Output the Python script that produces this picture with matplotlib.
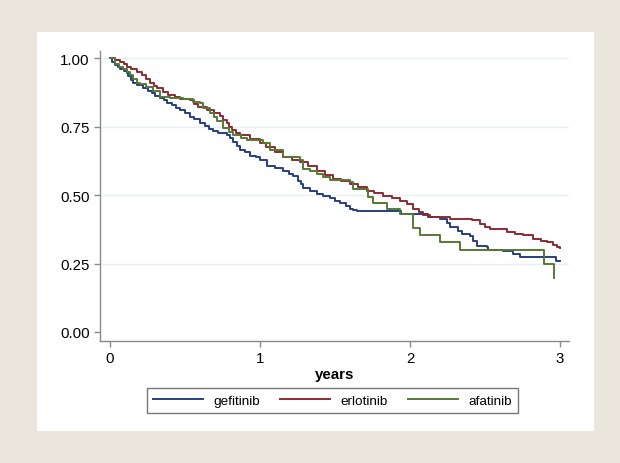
import matplotlib
matplotlib.use("Agg")
import matplotlib.pyplot as plt
from matplotlib.patches import Rectangle

plt.rcParams['font.family'] = ['Liberation Sans', 'DejaVu Sans']

series_names = ["gefitinib", "erlotinib", "afatinib"]

gef_t = [0, 0.011, 0.03, 0.05, 0.067, 0.09, 0.11, 0.122, 0.14, 0.155, 0.18, 0.22, 0.25, 0.28, 0.30,
         0.33, 0.36, 0.378, 0.41, 0.44, 0.467, 0.50, 0.533, 0.56, 0.60, 0.63, 0.66, 0.689, 0.72, 0.778,
         0.80, 0.822, 0.845, 0.867, 0.90, 0.933, 0.97, 1.0, 1.044, 1.1, 1.156, 1.19, 1.222, 1.25, 1.27,
         1.289, 1.33, 1.378, 1.42, 1.467, 1.50, 1.533, 1.57, 1.6, 1.62, 1.644, 1.94, 2.122, 2.2, 2.244,
         2.267, 2.322, 2.344, 2.4, 2.422, 2.444, 2.511, 2.52, 2.62, 2.689, 2.733, 2.975, 3.0]
gef_s = [1.0, 0.985, 0.975, 0.97, 0.962, 0.955, 0.945, 0.935, 0.922, 0.91, 0.903, 0.89, 0.882, 0.872, 0.864,
         0.855, 0.847, 0.838, 0.83, 0.82, 0.81, 0.80, 0.787, 0.778, 0.763, 0.752, 0.742, 0.733, 0.728, 0.72,
         0.708, 0.696, 0.68, 0.665, 0.656, 0.645, 0.638, 0.63, 0.608, 0.598, 0.587, 0.578, 0.57, 0.553, 0.54,
         0.525, 0.515, 0.505, 0.497, 0.488, 0.48, 0.47, 0.46, 0.45, 0.447, 0.443, 0.431, 0.42, 0.413, 0.40,
         0.382, 0.37, 0.358, 0.35, 0.334, 0.316, 0.31, 0.30, 0.296, 0.285, 0.273, 0.258, 0.258]

erl_t = [0, 0.03, 0.067, 0.09, 0.111, 0.14, 0.178, 0.211, 0.24, 0.267, 0.29, 0.311, 0.35, 0.389, 0.43,
         0.467, 0.533, 0.56, 0.589, 0.644, 0.69, 0.733, 0.755, 0.778, 0.795, 0.811, 0.84, 0.867, 0.933, 1.0,
         1.04, 1.1, 1.156, 1.21, 1.267, 1.32, 1.378, 1.43, 1.489, 1.54, 1.6, 1.65, 1.711, 1.76, 1.822,
         1.88, 1.933, 1.98, 2.022, 2.06, 2.089, 2.13, 2.267, 2.41, 2.467, 2.50, 2.533, 2.644, 2.70, 2.756,
         2.822, 2.87, 2.911, 2.95, 2.978, 3.0]
erl_s = [1.0, 0.995, 0.988, 0.978, 0.97, 0.96, 0.95, 0.94, 0.925, 0.91, 0.90, 0.89, 0.878, 0.866, 0.858,
         0.853, 0.848, 0.835, 0.822, 0.81, 0.80, 0.79, 0.775, 0.763, 0.75, 0.74, 0.728, 0.72, 0.706, 0.69,
         0.675, 0.658, 0.64, 0.63, 0.62, 0.605, 0.59, 0.575, 0.56, 0.55, 0.541, 0.53, 0.517, 0.508, 0.498,
         0.49, 0.48, 0.468, 0.45, 0.438, 0.426, 0.42, 0.414, 0.408, 0.395, 0.385, 0.377, 0.365, 0.358, 0.353,
         0.34, 0.334, 0.328, 0.318, 0.31, 0.307]

afa_t = [0, 0.033, 0.06, 0.089, 0.11, 0.133, 0.155, 0.178, 0.2, 0.24, 0.289, 0.333, 0.4, 0.489, 0.556,
         0.60, 0.622, 0.667, 0.69, 0.711, 0.756, 0.79, 0.822, 0.87, 0.911, 1.022, 1.067, 1.156, 1.267, 1.289,
         1.33, 1.378, 1.42, 1.467, 1.6, 1.622, 1.722, 1.756, 1.844, 1.933, 2.022, 2.067, 2.2, 2.333, 2.89, 2.96]
afa_s = [1.0, 0.98, 0.97, 0.96, 0.95, 0.94, 0.925, 0.91, 0.905, 0.895, 0.88, 0.86, 0.855, 0.85, 0.84,
         0.838, 0.82, 0.80, 0.785, 0.77, 0.745, 0.73, 0.72, 0.71, 0.70, 0.69, 0.665, 0.64, 0.627, 0.597,
         0.588, 0.578, 0.567, 0.555, 0.549, 0.524, 0.494, 0.47, 0.45, 0.433, 0.38, 0.356, 0.328, 0.30, 0.248, 0.197]

x_ticks = [0, 1, 2, 3]
y_ticks = [0.00, 0.25, 0.50, 0.75, 1.00]
y_ticklabels = ["0.00", "0.25", "0.50", "0.75", "1.00"]
x_label = "years"

colors = ["#283F7F", "#8C2B34", "#557A33"]

W, H = 620, 464
fig = plt.figure(figsize=(W / 100, H / 100), dpi=100)
fig.patch.set_facecolor("#EAE6DB")
fig.patches.append(Rectangle((37 / W, 1 - 432 / H), (594 - 37) / W, (432 - 33) / H,
                             transform=fig.transFigure, facecolor="white", edgecolor="none", zorder=-5))

ax = fig.add_axes([100 / W, 1 - 342 / H, 469 / W, 290 / H])
ax.set_zorder(2)
ax.set_facecolor("white")
ax.set_xlim(-0.067, 3.06)
ax.set_ylim(-0.033, 1.027)

for yv in y_ticks[1:]:
    ax.axhline(yv, color="#E6EFF1", lw=1.0, zorder=1)

for t, s, c, n in zip([gef_t, erl_t, afa_t], [gef_s, erl_s, afa_s], colors, series_names):
    ax.step(t, s, where="post", color=c, lw=1.4, label=n, zorder=3)

for side in ["top", "right"]:
    ax.spines[side].set_visible(False)
for side in ["left", "bottom"]:
    ax.spines[side].set_color("#8A8A8A")
    ax.spines[side].set_linewidth(1.0)

ax.set_xticks(x_ticks)
ax.set_xticklabels([str(v) for v in x_ticks])
ax.set_yticks(y_ticks)
ax.set_yticklabels(y_ticklabels)
ax.tick_params(axis="both", colors="#8A8A8A", labelcolor="black", labelsize=10.8, length=4, width=1.0)
ax.set_xlabel(x_label, fontsize=10.8, fontweight="bold", labelpad=1)

leg = fig.legend(loc="center", bbox_to_anchor=(332.5 / W, 1 - 401.5 / H), ncol=3, fontsize=9.7,
                 frameon=True, fancybox=False, edgecolor="#555555", handlelength=3.7,
                 columnspacing=1.5, handletextpad=0.75, borderpad=0.45)
leg.get_frame().set_linewidth(1.0)
leg.set_zorder(3)

fig.savefig("out.png", dpi=100, facecolor=fig.get_facecolor())
